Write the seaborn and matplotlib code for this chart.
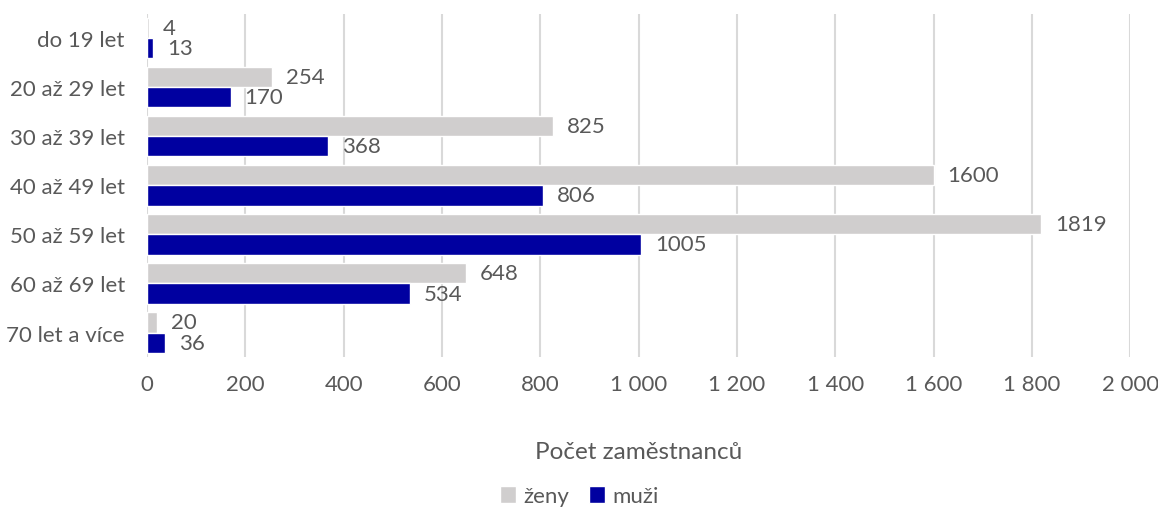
import matplotlib
matplotlib.use("Agg")
import matplotlib.pyplot as plt
import seaborn as sns
import pandas as pd
from matplotlib.ticker import FuncFormatter

# Age groups and headcounts by sex
age_groups = ["do 19 let", "20 až 29 let", "30 až 39 let", "40 až 49 let",
              "50 až 59 let", "60 až 69 let", "70 let a více"]
zeny = [4, 254, 825, 1600, 1819, 648, 20]
muzi = [13, 170, 368, 806, 1005, 534, 36]
series = ["ženy", "muži"]

df = pd.DataFrame({
    "vek": age_groups * 2,
    "pocet": zeny + muzi,
    "pohlavi": [series[0]] * len(zeny) + [series[1]] * len(muzi),
})

sns.set_theme(style="white")
plt.rcParams["font.family"] = ["Lato", "DejaVu Sans"]
text_color = "#595959"

fig = plt.figure(figsize=(11.58, 5.10), dpi=100)
ax = fig.add_axes([0.127, 0.298, 0.849, 0.673])

palette = {"ženy": "#D0CECE", "muži": "#0000A0"}
sns.barplot(data=df, y="vek", x="pocet", hue="pohlavi", order=age_groups,
            hue_order=series, palette=palette, orient="h", width=0.82,
            saturation=1, ax=ax, legend=True)

for container in ax.containers:
    ax.bar_label(container, fmt="%d", padding=10, fontsize=16, color=text_color)

ax.set_xlim(0, 2000)
ax.set_xticks(range(0, 2001, 200))
ax.xaxis.set_major_formatter(FuncFormatter(lambda v, p: f"{int(v):,}".replace(",", " ")))
ax.grid(axis="x", color="#D9D9D9", linewidth=1.5)
ax.set_axisbelow(True)
for s in ax.spines.values():
    s.set_visible(False)

ax.tick_params(axis="both", length=0, labelsize=16, colors=text_color)
ax.tick_params(axis="y", pad=16)
ax.tick_params(axis="x", pad=12)
ax.set_ylabel("")
ax.set_xlabel("Počet zaměstnanců", fontsize=17.5, color=text_color, labelpad=34)

handles, labels = ax.get_legend_handles_labels()
ax.legend(handles, labels, loc="lower center", bbox_to_anchor=(0.5, -0.012),
          bbox_transform=fig.transFigure, ncol=2, frameon=False, fontsize=16,
          labelcolor=text_color, handlelength=0.75, handleheight=0.75,
          handletextpad=0.3, columnspacing=0.9, borderaxespad=0.0)

fig.savefig("out.png", dpi=100)
